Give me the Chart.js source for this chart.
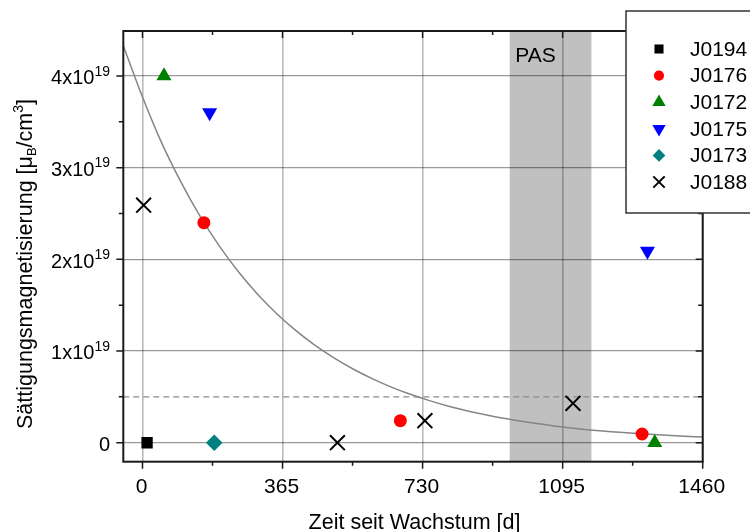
<!DOCTYPE html>
<html lang="de">
<head>
<meta charset="UTF-8">
<title>Sättigungsmagnetisierung</title>
<style>
    *{ margin:0; padding:0; }
    body{ width:750px; height:532px; background:#fff; overflow:hidden; }
</style>
</head>
<body>
<canvas id="chart" width="750" height="532"></canvas>
<script src="https://cdn.jsdelivr.net/npm/chart.js@4.4.1/dist/chart.umd.min.js"></script>
<script>
// values in units of 1e19 mu_B/cm^3, time in days
const j0194Days = [12],  j0194Ms = [0];
const j0176Days = [160, 672, 1302], j0176Ms = [2.4, 0.24, 0.095];
const j0172Days = [56, 1335], j0172Ms = [4.0, 0];
const j0175Days = [175, 1316], j0175Ms = [3.6, 2.09];
const j0173Days = [187], j0173Ms = [0];
const j0188Days = [3, 508, 736, 1122], j0188Ms = [2.59, 0, 0.24, 0.43];

// fitted decay curve
const fitDays = [-50, 0, 50, 100, 150, 200, 250, 300, 350, 400, 450, 500, 550, 600, 650, 700, 750, 800,
                 900, 1000, 1100, 1200, 1300, 1400, 1460];
const fitMs   = [4.33, 3.77, 3.27, 2.845, 2.47, 2.146, 1.864, 1.62, 1.407, 1.222, 1.061, 0.922, 0.801, 0.696, 0.604, 0.525, 0.456, 0.396,
                 0.299, 0.226, 0.170, 0.128, 0.097, 0.073, 0.062];

const limitMs = 0.5;
const pasRange = [957, 1170];
const xTicks = [0, 365, 730, 1095, 1460];
const yTicks = [0, 1, 2, 3, 4];

const FONT = '"Liberation Sans", Arial, sans-serif';
const E19 = 1e19;

function pts(days, ms){ return days.map((d, i) => ({x: d, y: ms[i] * E19})); }

const series = [
    {label:'J0194', days:j0194Days, ms:j0194Ms, style:'rect',     color:'#000000', r:8,   rot:0,   bw:0, lr:6.4},
    {label:'J0176', days:j0176Days, ms:j0176Ms, style:'circle',   color:'#ff0000', r:6.5, rot:0,   bw:0, lr:5.1},
    {label:'J0172', days:j0172Days, ms:j0172Ms, style:'triangle', color:'#008000', r:8.7, rot:0,   bw:0, lr:7.7},
    {label:'J0175', days:j0175Days, ms:j0175Ms, style:'triangle', color:'#0000ff', r:8.7, rot:180, bw:0, lr:7.7},
    {label:'J0173', days:j0173Days, ms:j0173Ms, style:'rectRot',  color:'#008080', r:8.3, rot:0,   bw:0, lr:6.3},
    {label:'J0188', days:j0188Days, ms:j0188Ms, style:'crossRot', color:'#000000', r:10.5,rot:0,   bw:2, lr:8}
];

const datasets = series.map(s => ({
    label: s.label,
    data: pts(s.days, s.ms),
    pointStyle: s.style,
    pointRadius: s.r,
    pointRotation: s.rot,
    pointBackgroundColor: s.color,
    pointBorderColor: s.color,
    pointBorderWidth: s.bw,
    showLine: false,
    order: 1
}));
datasets.push({
    label: 'fit',
    data: pts(fitDays, fitMs),
    showLine: true,
    pointRadius: 0,
    borderColor: '#858585',
    borderWidth: 1.5,
    cubicInterpolationMode: 'monotone',
    order: 5
});
datasets.push({
    label: 'limit',
    data: [{x: -50, y: limitMs * E19}, {x: 1460, y: limitMs * E19}],
    showLine: true,
    pointRadius: 0,
    borderColor: '#8a8a8a',
    borderWidth: 1.3,
    borderDash: [6, 4],
    order: 6
});

function drawParts(ctx, parts, x, y){
    let cx = x;
    parts.forEach(p => {
        ctx.font = p.size + 'px ' + FONT;
        ctx.fillText(p.t, cx, y + (p.dy || 0));
        cx += ctx.measureText(p.t).width;
    });
    return cx - x;
}
function partsWidth(ctx, parts){
    let w = 0;
    parts.forEach(p => { ctx.font = p.size + 'px ' + FONT; w += ctx.measureText(p.t).width; });
    return w;
}

const decor = {
    id: 'decor',
    beforeDraw(chart){
        const {ctx, chartArea: a, scales: {x}} = chart;
        const x0 = x.getPixelForValue(pasRange[0]), x1 = x.getPixelForValue(pasRange[1]);
        ctx.save();
        ctx.fillStyle = '#c0c0c0';
        ctx.fillRect(x0, a.top, x1 - x0, a.bottom - a.top);
        ctx.restore();
    },
    afterDatasetsDraw(chart){
        const {ctx, chartArea: a, scales: {x, y}} = chart;
        ctx.save();
        // PAS label
        ctx.fillStyle = '#000';
        ctx.font = '21px ' + FONT;
        ctx.textBaseline = 'alphabetic';
        ctx.textAlign = 'left';
        ctx.fillText('PAS', x.getPixelForValue(pasRange[0]) + 5.5, 61.5);

        // frame
        ctx.strokeStyle = '#1a1a1a';
        ctx.lineWidth = 2;
        ctx.strokeRect(a.left, a.top, a.right - a.left, a.bottom - a.top);

        // ticks
        ctx.lineWidth = 1.5;
        ctx.beginPath();
        for (let d = 0; d <= 1460; d += 182.5) {
            const px = x.getPixelForValue(d);
            const len = (d % 365 === 0) ? 7 : 4;
            ctx.moveTo(px, a.bottom); ctx.lineTo(px, a.bottom + len);
            ctx.moveTo(px, a.top); ctx.lineTo(px, a.top + len);
        }
        for (let v = 0; v <= 4.4; v += 0.5) {
            const py = y.getPixelForValue(v * E19);
            const len = (v % 1 === 0) ? 7 : 4.5;
            ctx.moveTo(a.left, py); ctx.lineTo(a.left - len, py);
            ctx.moveTo(a.right, py); ctx.lineTo(a.right - len, py);
        }
        ctx.stroke();

        // x tick labels
        ctx.font = '21px ' + FONT;
        ctx.textAlign = 'center';
        xTicks.forEach(d => ctx.fillText(String(d), x.getPixelForValue(d) - 1, 493));

        // y tick labels
        ctx.textAlign = 'left';
        yTicks.forEach(v => {
            const py = y.getPixelForValue(v * E19);
            const parts = v === 0 ? [{t:'0', size:20}] :
                [{t: v + 'x10', size: 20}, {t: '19', size: 14, dy: -8.5}];
            const w = partsWidth(ctx, parts);
            drawParts(ctx, parts, 110 - w, py + 8.3);
        });

        // x title
        const xt = [{t:'Zeit seit Wachstum [d]', size:21.5}];
        drawParts(ctx, xt, 414.5 - partsWidth(ctx, xt) / 2, 528.5);

        // y title
        const yt = [
            {t:'Sättigungsmagnetisierung [μ', size:21.5},
            {t:'B', size:13, dy:4},
            {t:'/cm', size:21.5},
            {t:'3', size:14, dy:-9},
            {t:']', size:21.5}
        ];
        ctx.translate(32, 429);
        ctx.rotate(-Math.PI / 2);
        drawParts(ctx, yt, 0, 0);
        ctx.restore();
    },
    afterDraw(chart){
        const ctx = chart.ctx;
        ctx.save();
        ctx.fillStyle = '#fff';
        ctx.fillRect(626, 11, 140, 202);
        ctx.strokeStyle = '#333';
        ctx.lineWidth = 1.5;
        ctx.strokeRect(626, 11, 140, 202);
        ctx.font = '21px ' + FONT;
        ctx.textBaseline = 'middle';
        ctx.textAlign = 'left';
        series.forEach((s, i) => {
            const cy = 49 + i * 26.6;
            ctx.fillStyle = s.color;
            ctx.strokeStyle = s.color;
            ctx.lineWidth = s.bw;
            Chart.helpers.drawPoint(ctx, {pointStyle: s.style, radius: s.lr, rotation: s.rot, borderWidth: s.bw}, 659, cy);
            ctx.fillStyle = '#000';
            ctx.fillText(s.label, 690, cy + 1);
        });
        ctx.restore();
    }
};

new Chart(document.getElementById('chart').getContext('2d'), {
    type: 'scatter',
    data: { datasets: datasets },
    plugins: [decor],
    options: {
        responsive: false,
        devicePixelRatio: 1,
        animation: false,
        layout: { padding: { top: 31, right: 47.3, left: 0, bottom: 0 } },
        plugins: { legend: { display: false }, tooltip: { enabled: false } },
        scales: {
            x: {
                type: 'linear',
                min: -50, max: 1460,
                afterBuildTicks: s => { s.ticks = xTicks.map(v => ({value: v})); },
                afterFit: s => { s.height = 70.3; },
                ticks: { display: false },
                border: { display: false },
                grid: { color: 'rgba(0,0,0,0.27)', lineWidth: 1.6, drawTicks: false }
            },
            y: {
                type: 'linear',
                min: -0.207 * E19, max: 4.49 * E19,
                afterBuildTicks: s => { s.ticks = yTicks.map(v => ({value: v * E19})); },
                afterFit: s => { s.width = 123.3; },
                ticks: { display: false },
                border: { display: false },
                grid: { color: 'rgba(0,0,0,0.4)', lineWidth: 1.2, drawTicks: false }
            }
        }
    }
});
</script>
</body>
</html>
